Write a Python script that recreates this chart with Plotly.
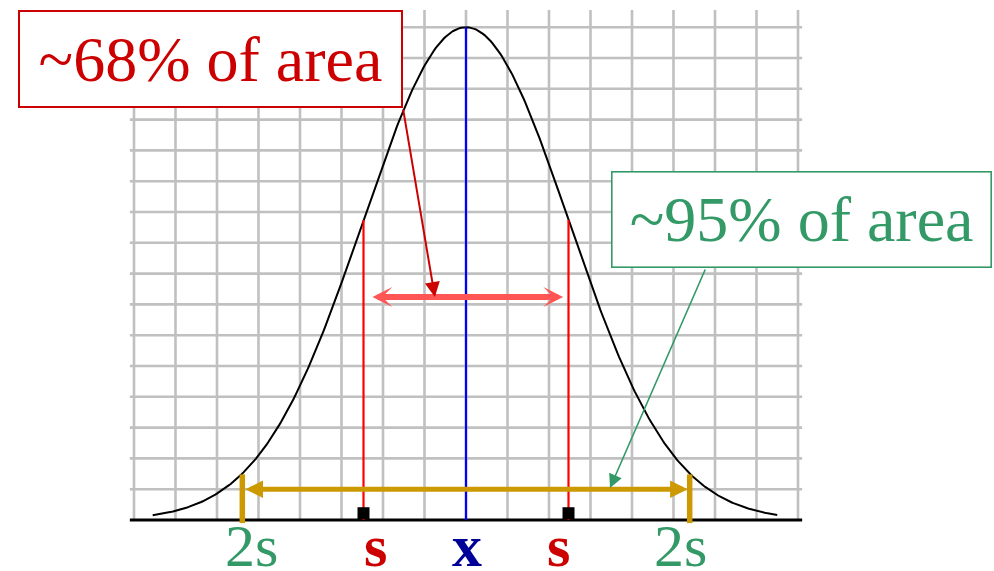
import numpy as np
import plotly.graph_objects as go

# ---- data (grid units) ----
grid_cols = list(range(-8, 9))          # vertical grid lines
grid_rows = list(range(1, 17))          # horizontal grid lines
grid_top = 16.56
grid_side = 8.1

mean = 0.0
sd = 2.48
peak = 16.0
curve_span = [-7.55, 7.5]

one_s = [-2.47, 2.47]                   # red markers
two_s = [-5.39, 5.39]                   # gold markers
two_s_top = 1.48
band_y_68 = 7.24                        # level of the pink double arrow
band_y_95 = 1.0                         # level of the gold double arrow
tips_68 = [-2.29, 2.34]
tips_95 = [-5.35, 5.34]

tick_labels = ["2s", "<b>s</b>", "<b>x</b>", "<b>s</b>", "2s"]
tick_pos = [-5.16, -2.19, 0.02, 2.24, 5.16]

box_68_text = "~68% of area"
box_95_text = "~95% of area"

RED_TXT = "#CC0000"
GREEN = "#339966"
GOLD = "#CC9900"
PINK = "#FF5555"
GRID = "#C0C0C0"
SERIF = "Liberation Serif, Times New Roman, serif"

fig = go.Figure()

# grid
gx, gy = [], []
for c in grid_cols:
    gx += [c, c, None]
    gy += [0, grid_top, None]
for r in grid_rows:
    gx += [-grid_side, grid_side, None]
    gy += [r, r, None]
fig.add_trace(go.Scatter(x=gx, y=gy, mode="lines",
                         line=dict(color=GRID, width=2.6), hoverinfo="skip"))

# baseline
fig.add_trace(go.Scatter(x=[-grid_side, grid_side], y=[0, 0], mode="lines",
                         line=dict(color="black", width=3), hoverinfo="skip"))

# normal curve
xs = np.linspace(curve_span[0], curve_span[1], 400)
ys = peak * np.exp(-0.5 * ((xs - mean) / sd) ** 2)
fig.add_trace(go.Scatter(x=xs, y=ys, mode="lines",
                         line=dict(color="black", width=2), hoverinfo="skip"))

def height(x):
    return peak * np.exp(-0.5 * ((x - mean) / sd) ** 2)

# mean line
fig.add_trace(go.Scatter(x=[mean, mean], y=[0, peak], mode="lines",
                         line=dict(color="#0000FF", width=2.2), hoverinfo="skip"))

# +/- s lines
for x in one_s:
    fig.add_trace(go.Scatter(x=[x, x], y=[0, height(x)], mode="lines",
                             line=dict(color="#FF0000", width=2.2), hoverinfo="skip"))
fig.add_trace(go.Scatter(x=one_s, y=[0.22, 0.22], mode="markers",
                         marker=dict(symbol="square", size=12, color="black"),
                         hoverinfo="skip"))

# +/- 2s lines
for x in two_s:
    fig.add_trace(go.Scatter(x=[x, x], y=[-0.1, two_s_top], mode="lines",
                             line=dict(color=GOLD, width=5.5), hoverinfo="skip"))


def arrow(tip, tail, color, width, head, size, both=False):
    return dict(x=tip[0], y=tip[1], ax=tail[0], ay=tail[1],
                xref="x", yref="y", axref="x", ayref="y",
                text="", showarrow=True, arrowcolor=color, arrowwidth=width,
                arrowhead=head, arrowsize=size,
                arrowside="end+start" if both else "end",
                startarrowhead=head, startarrowsize=size,
                standoff=0, startstandoff=0)


annotations = [
    arrow((tips_68[1], band_y_68), (tips_68[0], band_y_68), PINK, 6, 3, 0.55, both=True),
    arrow((tips_95[1], band_y_95), (tips_95[0], band_y_95), GOLD, 5, 2, 0.7, both=True),
    arrow((-0.75, 7.24), (-1.52, 13.38), RED_TXT, 2, 2, 1.5),
    arrow((3.47, 1.04), (5.78, 8.18), GREEN, 1.6, 2, 1.7),
    dict(x=-6.157, y=14.97, xref="x", yref="y", text=box_68_text, showarrow=False,
         font=dict(family=SERIF, size=64, color=RED_TXT),
         bgcolor="white", bordercolor=RED_TXT, borderwidth=2, borderpad=0,
         width=381, height=94),
    dict(x=8.09, y=9.77, xref="x", yref="y", text=box_95_text, showarrow=False,
         font=dict(family=SERIF, size=64, color=GREEN),
         bgcolor="white", bordercolor=GREEN, borderwidth=1.6, borderpad=0,
         width=378, height=94),
]

label_colors = [GREEN, RED_TXT, "#000099", RED_TXT, GREEN]
for lab, pos, col in zip(tick_labels, tick_pos, label_colors):
    annotations.append(dict(
        x=pos, y=-0.84, xref="x", yref="y", text=lab, showarrow=False,
        font=dict(family=SERIF, size=60, color=col), yanchor="middle"))

fig.update_layout(
    width=994, height=571,
    margin=dict(l=0, r=0, t=0, b=0),
    paper_bgcolor="white", plot_bgcolor="white",
    showlegend=False,
    xaxis=dict(range=[-11.229, 12.723], visible=False, fixedrange=True),
    yaxis=dict(range=[-1.656, 16.883], visible=False, fixedrange=True),
    annotations=annotations,
)

fig.write_html("out.html")
